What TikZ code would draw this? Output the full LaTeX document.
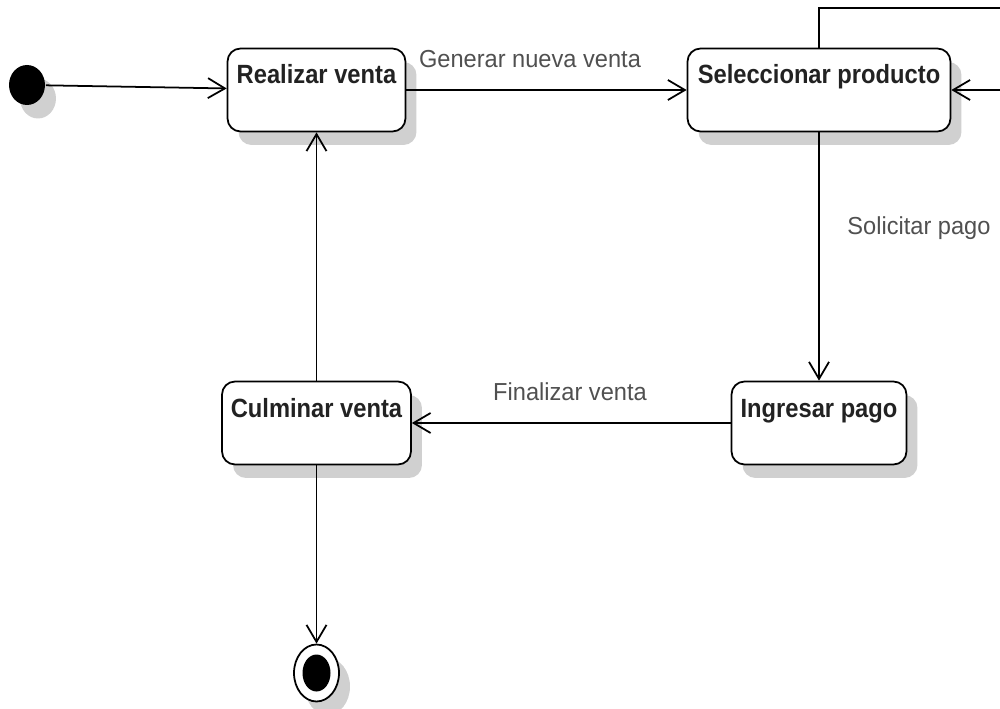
\documentclass[tikz,border=0pt]{standalone}
\usepackage{fontspec}
\newfontfamily\statefont[FakeStretch=0.9]{Liberation Sans}
\newfontfamily\labelfont[FakeStretch=0.96]{Liberation Sans}
\usetikzlibrary{arrows.meta}
\usetikzlibrary{shapes.geometric}
\usetikzlibrary{shadows}
\definecolor{shadowgray}{RGB}{208,208,208}
\definecolor{labelgray}{RGB}{80,80,80}
\definecolor{textdark}{RGB}{34,34,34}

\begin{document}
\begin{tikzpicture}[x=0.02cm,y=-0.02cm,->,>={Straight Barb[length=0.34cm,width=0.4cm]},
    line width=1pt,
    state shadow/.style={drop shadow={shadow xshift=0.22cm,shadow yshift=-0.27cm,fill=shadowgray,opacity=1}},
    state node/.style={rectangle,draw,fill=white,rounded corners=0.26cm,inner sep=0pt,
      text height=0.71cm,text depth=0.95cm,text=textdark,state shadow,
      font=\statefont\bfseries\fontsize{15pt}{18pt}\selectfont},
    start node/.style={ellipse,fill=black,inner sep=0pt,minimum width=0.72cm,minimum height=0.8cm,state shadow},
    end node/.style={ellipse,draw,fill=white,inner sep=0pt,minimum width=0.9cm,minimum height=1.14cm,state shadow},
    trans label/.style={anchor=base,text=labelgray,font=\labelfont\fontsize{14pt}{17pt}\selectfont}]
  \useasboundingbox (0,0) rectangle (1000,709);
  \begin{scope}
    \node[start node] (init) at (27,85) {};
    \node[state node,minimum width=3.56cm] (real) at (316.5,90) {Realizar venta};
    \node[state node,minimum width=5.26cm] (sel) at (819,90) {Seleccionar producto};
    \node[state node,minimum width=3.5cm] (ing) at (819,423) {Ingresar pago};
    \node[state node,minimum width=3.78cm] (culm) at (316.5,423) {Culminar venta};
    \node[end node] (fin) at (316.5,673) {};
    \node[ellipse,fill=black,inner sep=0pt,minimum width=0.56cm,minimum height=0.74cm] (finin) at (fin) {};
    \coordinate (loop) at (1030,8);

    \node[trans label] (genlbl) at (530,68) {Generar nueva venta};
    \node[trans label] (sollbl) at (919,235) {Solicitar pago};
    \node[trans label] (finlbl) at (570,400) {Finalizar venta};

    \path (init) edge (real);
    \path (real) edge (sel);
    \draw (sel.north) |- (loop) |- (sel.east);
    \path (sel) edge (ing);
    \path (ing) edge (culm);
    \path (culm) edge (real);
    \path (culm) edge (fin);
  \end{scope}
\end{tikzpicture}
\end{document}
